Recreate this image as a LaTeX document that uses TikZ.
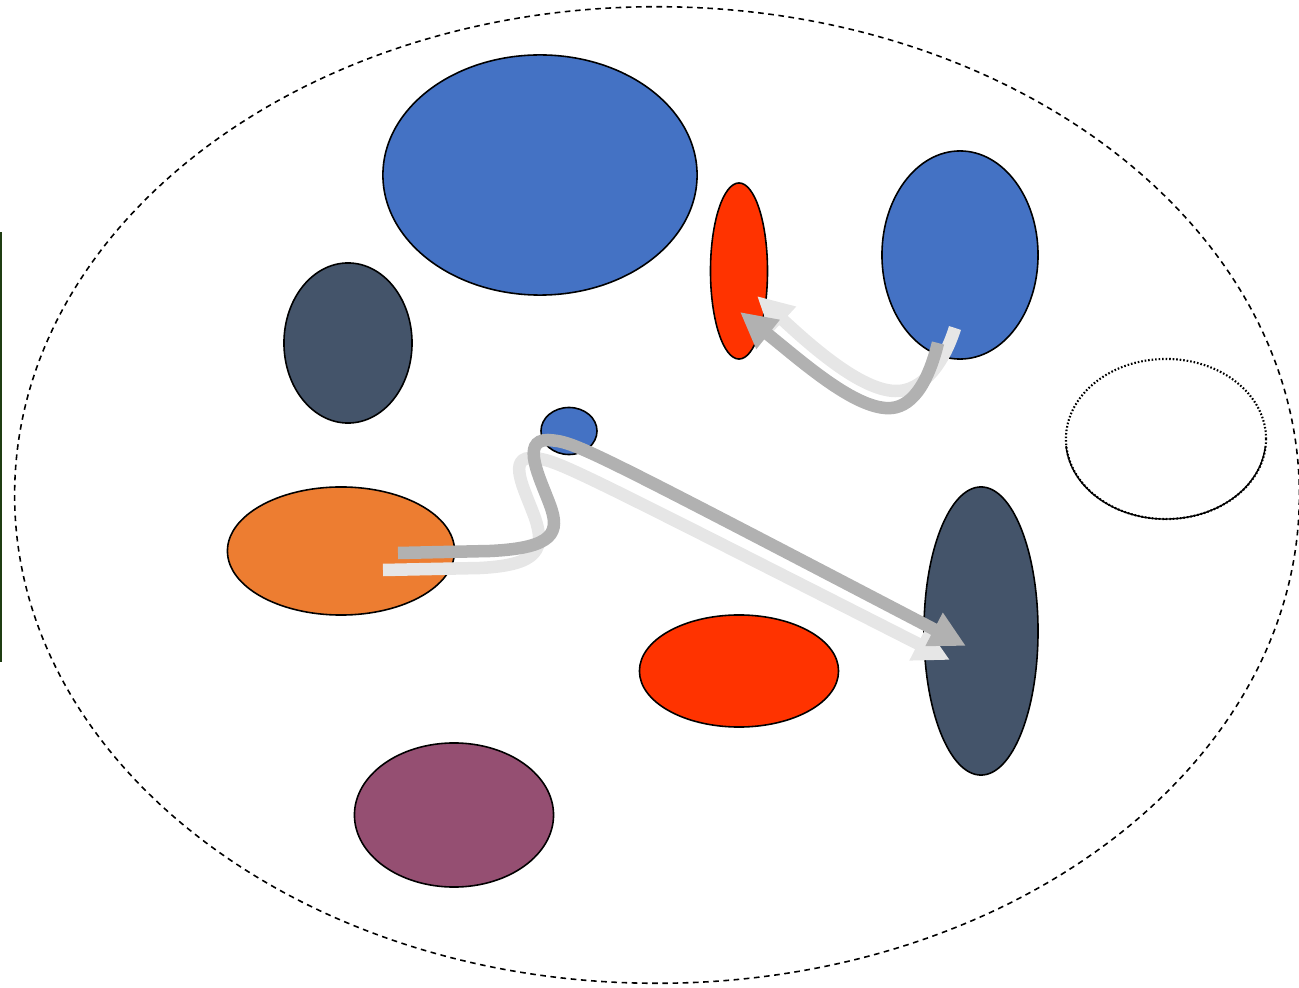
\documentclass[tikz,border=0pt]{standalone}
\usepackage{tikz}
\usetikzlibrary{shapes.geometric,arrows.meta}
\usepackage{xcolor}
\definecolor{blobblue}{HTML}{4472C4}
\definecolor{slate}{HTML}{44546A}
\definecolor{flame}{HTML}{FF3300}
\definecolor{tangerine}{HTML}{ED7D31}
\definecolor{plum}{HTML}{954F72}
\definecolor{darkarrow}{HTML}{B1B1B1}
\definecolor{lightarrow}{HTML}{E6E6E6}
\definecolor{edgegreen}{HTML}{1F3D12}

\begin{document}
\begin{tikzpicture}[x=0.01cm, y=-0.01cm,
  blob/.style={ellipse, draw, line width=0.45pt, inner sep=0pt},
  flow/.style={line width=0.125cm, -{Triangle[length=3.6mm, width=3.5mm]}}
]
  \useasboundingbox (0,0) rectangle (1299,988);
  \fill[edgegreen] (0,232) rectangle (2,662);

  \node[blob, dashed, dash pattern=on 1.6pt off 1.3pt, minimum width=12.84cm, minimum height=9.76cm] (outer) at (657,495) {};

  \node[blob, fill=blobblue, minimum width=3.14cm, minimum height=2.4cm] (bigblue) at (540,175) {};
  \node[blob, fill=slate, minimum width=1.28cm, minimum height=1.6cm] (leftslate) at (348,343) {};
  \node[blob, fill=flame, minimum width=0.57cm, minimum height=1.76cm] (thinred) at (739,271) {};
  \node[blob, fill=blobblue, minimum width=1.56cm, minimum height=2.08cm] (rightblue) at (960,255) {};
  \node[blob, draw=none, minimum width=2cm, minimum height=1.6cm] (ring) at (1166,439) {};
  \draw[line width=0.6pt, dash pattern=on 0.45pt off 0.55pt] (ring) ellipse [x radius=1cm, y radius=0.8cm];
  \draw[line width=0.4pt] (1066,446) arc[start angle=185, end angle=355, x radius=1cm, y radius=0.8cm];
  \node[blob, fill=blobblue, minimum width=0.56cm, minimum height=0.47cm] (dot) at (569,431) {};
  \node[blob, fill=tangerine, minimum width=2.27cm, minimum height=1.28cm] (orange) at (341,551) {};
  \node[blob, fill=slate, minimum width=1.14cm, minimum height=2.88cm] (tallslate) at (981,631) {};
  \node[blob, fill=flame, minimum width=1.99cm, minimum height=1.12cm] (flatred) at (739,671) {};
  \node[blob, fill=plum, minimum width=1.99cm, minimum height=1.44cm] (plum) at (454,815) {};

  % arrow ends
  \coordinate (lowA) at (383,570);
  \coordinate (lowB) at (950,660);
  \coordinate (lowC) at (398,553);
  \coordinate (lowD) at (966,646);
  \coordinate (upA) at (955,328);
  \coordinate (upB) at (757,296);
  \coordinate (upC) at (938,343);
  \coordinate (upD) at (740,312);

  \draw[flow, lightarrow] (lowA) -- (480,568) .. controls (540,565) and (545,548) .. (535,518)
    .. controls (525,490) and (505,455) .. (535,458) .. controls (560,462) .. (lowB);
  \draw[flow, darkarrow] (lowC) -- (490,551) .. controls (555,548) and (560,532) .. (550,505)
    .. controls (540,478) and (520,440) .. (548,440) .. controls (575,442) .. (lowD);

  \draw[flow, lightarrow] (upA) .. controls (940,375) and (915,392) .. (895,391)
    .. controls (860,390) and (810,345) .. (upB);
  \draw[flow, darkarrow] (upC) .. controls (925,395) and (905,410) .. (885,408)
    .. controls (850,405) and (800,360) .. (upD);
\end{tikzpicture}
\end{document}
